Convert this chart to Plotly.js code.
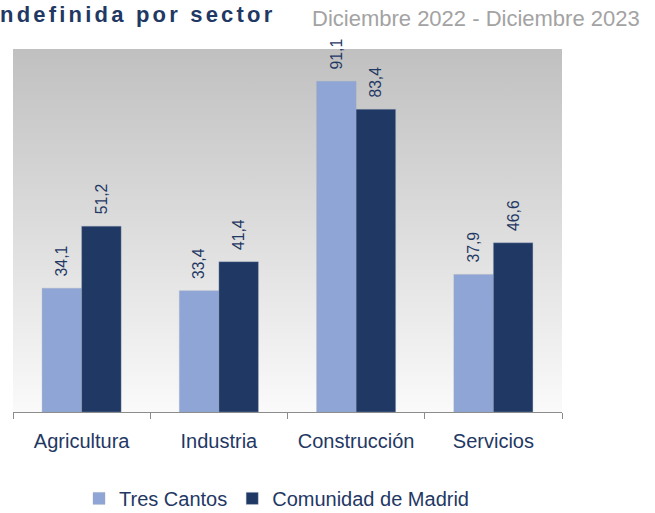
<!DOCTYPE html>
<html>
<head>
<meta charset="utf-8">
<script src="https://cdn.plot.ly/plotly-3.0.1.min.js"></script>
<style>
  html, body { margin: 0; padding: 0; background: #ffffff; }
  #chart { width: 655px; height: 513px; }
  .gtitle { letter-spacing: 3.2px; }
</style>
</head>
<body>
<div id="chart"></div>
<script>
const categories = ['Agricultura', 'Industria', 'Construcción', 'Servicios'];
const seriesNames = ['Tres Cantos', 'Comunidad de Madrid'];
const tresCantos = [34.1, 33.4, 91.1, 37.9];
const comunidadMadrid = [51.2, 41.4, 83.4, 46.6];
const titleText = 'ndefinida por sector';
const subtitleText = 'Diciembre 2022 - Diciembre 2023';

const navy = '#1F3864';
const light = '#8FA5D5';

const labelFont = { family: 'Liberation Sans, Arial, sans-serif', size: 19, color: navy };

function barTrace(name, values, color) {
  return {
    type: 'bar',
    name: name,
    x: categories,
    y: values,
    marker: { color: color, line: { color: 'rgba(160,170,190,0.6)', width: 0.6 } },
    texttemplate: '\u00A0\u00A0%{y:.1f}',
    textposition: 'outside',
    textangle: -90,
    textfont: labelFont,
    cliponaxis: false,
    hoverinfo: 'skip'
  };
}

const data = [
  barTrace(seriesNames[0], tresCantos, light),
  barTrace(seriesNames[1], comunidadMadrid, navy)
];

const gradSvg = '<svg xmlns="http://www.w3.org/2000/svg" width="100" height="100" preserveAspectRatio="none">' +
  '<defs><linearGradient id="g" x1="0" y1="0" x2="0" y2="1">' +
  '<stop offset="0" stop-color="#C0C0C0"/><stop offset="1" stop-color="#FAFAFA"/>' +
  '</linearGradient></defs><rect width="100" height="100" fill="url(#g)"/></svg>';

const layout = {
  width: 655,
  height: 513,
  margin: { l: 13, r: 93, t: 49, b: 101, autoexpand: false },
  paper_bgcolor: '#ffffff',
  plot_bgcolor: 'rgba(0,0,0,0)',
  separators: ',.',
  font: { family: 'Liberation Sans, Arial, sans-serif', color: navy },
  barmode: 'group',
  bargap: 0.424,
  bargroupgap: 0,
  title: {
    text: titleText,
    xref: 'container', yref: 'container',
    x: 0, xanchor: 'left',
    y: 0.973, yanchor: 'middle',
    pad: { l: 0, r: 0, t: 0, b: 0 },
    font: { family: 'Liberation Sans, Arial, sans-serif', size: 22, weight: 'bold', color: navy }
  },
  annotations: [{
    text: subtitleText,
    xref: 'paper', yref: 'paper',
    x: 0.541, xanchor: 'left',
    y: 1.083, yanchor: 'middle',
    showarrow: false,
    font: { family: 'Liberation Sans, Arial, sans-serif', size: 22, color: '#A3A3A3' }
  }],
  images: [{
    source: 'data:image/svg+xml;charset=utf-8,' + encodeURIComponent(gradSvg),
    xref: 'paper', yref: 'paper',
    x: 0, y: 1, sizex: 1, sizey: 1,
    xanchor: 'left', yanchor: 'top',
    sizing: 'stretch',
    layer: 'below'
  }],
  xaxis: {
    type: 'category',
    showgrid: false,
    zeroline: false,
    showline: true,
    linecolor: '#8C8C8C',
    linewidth: 1,
    ticks: 'outside',
    tickson: 'boundaries',
    ticklen: 6,
    tickcolor: '#8C8C8C',
    ticklabelstandoff: 11,
    tickfont: { family: 'Liberation Sans, Arial, sans-serif', size: 20, color: navy },
    fixedrange: true
  },
  yaxis: {
    range: [0, 100],
    visible: false,
    showgrid: false,
    zeroline: false,
    fixedrange: true
  },
  showlegend: true,
  legend: {
    orientation: 'h',
    x: 0.48, xanchor: 'center',
    y: -0.238, yanchor: 'middle',
    font: { family: 'Liberation Sans, Arial, sans-serif', size: 20, color: navy },
    itemwidth: 30,
    bgcolor: 'rgba(0,0,0,0)'
  }
};

Plotly.newPlot('chart', data, layout, { displayModeBar: false, staticPlot: true });
</script>
</body>
</html>
